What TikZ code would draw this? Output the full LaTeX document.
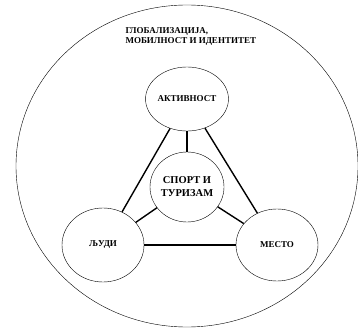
\documentclass[tikz,border=0pt]{standalone}
\usepackage{fontspec}
\setmainfont{Liberation Serif}
\usetikzlibrary{shapes.geometric}
\tikzstyle{node_ring} = [ellipse, draw, inner sep=0pt, minimum width=82pt, minimum height=68pt, font=\bfseries\fontsize{9}{10}\selectfont]
\tikzstyle{node_core} = [ellipse, draw, inner sep=0pt, minimum width=74pt, minimum height=70pt, align=center, font=\bfseries\fontsize{10.5}{13}\selectfont]
\tikzstyle{edge_link} = [line width=1.4pt]

\begin{document}
\begin{tikzpicture}[x=1pt,y=-1pt]
\useasboundingbox (0,0) rectangle (358,331);
\node (globe) at (187,166) [ellipse, draw, inner sep=0pt, minimum width=342pt, minimum height=322pt] {};
\node (title) at (122,36) [anchor=west, align=left, font=\bfseries\fontsize{9}{10}\selectfont] {ГЛОБАЛИЗАЦИЈА,\\МОБИЛНОСТ И ИДЕНТИТЕТ};

\node (A) at (187,99) [node_ring, minimum height=64pt] {АКТИВНОСТ};
\node (L) at (103,245) [node_ring, minimum height=74pt] {ЉУДИ};
\node (M) at (277,245) [node_ring, minimum height=72pt] {МЕСТО};
\node (S) at (187,187) [node_core] {СПОРТ И\\ТУРИЗАМ};

\draw[edge_link] (A)--(L);
\draw[edge_link] (A)--(M);
\draw[edge_link] (L)--(M);
\draw[edge_link] (A)--(S);
\draw[edge_link] (S)--(L);
\draw[edge_link] (S)--(M);
\end{tikzpicture}
\end{document}
